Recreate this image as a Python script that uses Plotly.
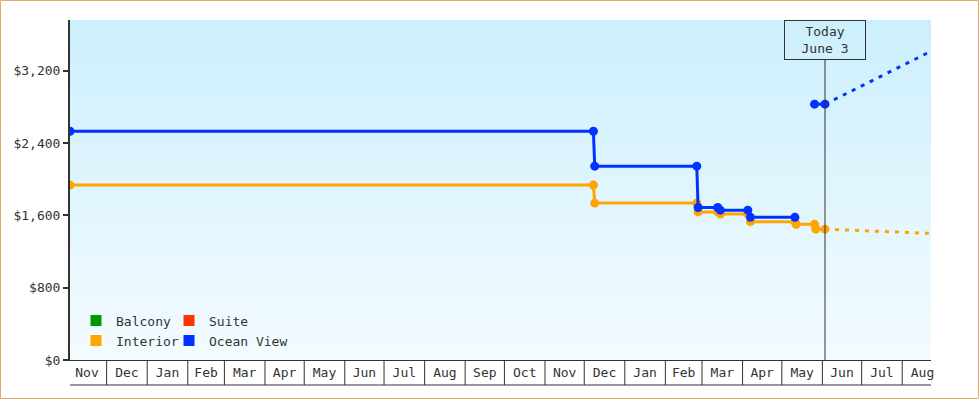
import pandas as pd
import plotly.graph_objects as go

# fare history
interior_dates = ["2012-11-03", "2013-12-08", "2013-12-09", "2014-02-25", "2014-02-26",
                  "2014-03-13", "2014-03-15", "2014-04-05", "2014-04-07", "2014-05-11",
                  "2014-05-12", "2014-05-26", "2014-05-27", "2014-06-03"]
interior_prices = [1934, 1934, 1735, 1735, 1638, 1638, 1615, 1615, 1530, 1530,
                   1500, 1500, 1447, 1447]

ocean_dates = ["2012-11-03", "2013-12-08", "2013-12-09", "2014-02-25", "2014-02-26",
               "2014-03-13", "2014-03-15", "2014-04-05", "2014-04-07", "2014-05-11",
               "2014-05-18", "2014-05-26", "2014-06-03"]
ocean_prices = [2530, 2530, 2144, 2144, 1686, 1686, 1657, 1657, 1578, 1578,
                None, 2829, 2829]

# projected fares after today
proj_dates = ["2014-06-03", "2014-07-01", "2014-08-01", "2014-09-01"]
interior_proj = [1447, 1432, 1415, 1395]
ocean_proj = [2829, 3035, 3255, 3480]

legend_names = ["Balcony", "Interior", "Suite", "Ocean View"]
legend_colors = ["#009900", "#ffa500", "#ff3300", "#0033ff"]
legend_groups = ["legend", "legend", "legend2", "legend2"]

y_ticks = [0, 800, 1600, 2400, 3200]
x_range = ["2012-11-03", "2014-08-23"]
today = "2014-06-03"

W, H = 980, 400
ML, MR, MT, MB = 70, 49, 20, 40
PW, PH = W - ML - MR, H - MT - MB
FONT = dict(family="DejaVu Sans Mono", size=13, color="#333333")

ORANGE = "#ffa500"
BLUE = "#0033ff"

fig = go.Figure()

fig.add_trace(go.Scatter(x=interior_dates, y=interior_prices, mode="lines+markers",
                         line=dict(color=ORANGE, width=3), marker=dict(size=9, color=ORANGE),
                         showlegend=False, hoverinfo="skip"))
fig.add_trace(go.Scatter(x=proj_dates, y=interior_proj, mode="lines",
                         line=dict(color=ORANGE, width=3, dash="4px,6px"),
                         showlegend=False, hoverinfo="skip"))
fig.add_trace(go.Scatter(x=ocean_dates, y=ocean_prices, mode="lines+markers",
                         line=dict(color=BLUE, width=3), marker=dict(size=9, color=BLUE),
                         showlegend=False, hoverinfo="skip"))
fig.add_trace(go.Scatter(x=proj_dates, y=ocean_proj, mode="lines",
                         line=dict(color=BLUE, width=3, dash="4px,6px"),
                         showlegend=False, hoverinfo="skip"))

for name, col, lg in zip(legend_names, legend_colors, legend_groups):
    fig.add_trace(go.Scatter(x=[None], y=[None], mode="markers", name=name, legend=lg,
                             marker=dict(symbol="square", size=11, color=col)))

# vertical gradient for the plot background
top_c = (203, 239, 252)
bot_c = (244, 251, 255)
n = 40
shapes = []
for i in range(n):
    t = (i + 0.5) / n
    c = tuple(round(b + (a - b) * t) for a, b in zip(top_c, bot_c))
    shapes.append(dict(type="rect", xref="paper", yref="paper", x0=0, x1=1,
                       y0=i / n, y1=(i + 1) / n + 0.001, layer="below",
                       line=dict(width=0), fillcolor="rgb(%d,%d,%d)" % c))

# month boxes under the axis
box_h = 25 / PH
for d in pd.date_range("2012-12-01", "2014-08-01", freq="MS"):
    shapes.append(dict(type="line", xref="x", yref="paper", x0=d, x1=d, y0=0, y1=-box_h,
                       line=dict(color="#333333", width=1)))
shapes.append(dict(type="line", xref="paper", yref="paper", x0=0, x1=1, y0=-box_h, y1=-box_h,
                   line=dict(color="#333333", width=1)))

# today marker line
shapes.append(dict(type="line", xref="x", yref="paper", x0=today, x1=today,
                   y0=0, y1=1 - 40 / PH, line=dict(color="#333333", width=1)))

# outer border
shapes.append(dict(type="rect", xref="paper", yref="paper",
                   x0=(-ML + 0.5) / PW, x1=(W - ML - 1.5) / PW,
                   y0=(-MB + 1.5) / PH, y1=1 + (MT - 0.5) / PH,
                   line=dict(color="#e9a960", width=1)))

fig.update_layout(
    width=W, height=H,
    margin=dict(l=ML, r=MR, t=MT, b=MB),
    paper_bgcolor="white",
    plot_bgcolor="rgb(244,251,255)",
    font=FONT,
    shapes=shapes,
    legend=dict(x=6 / PW, y=0.16, xanchor="left", yanchor="top", font=FONT,
                bgcolor="rgba(0,0,0,0)", itemwidth=30, tracegroupgap=0),
    legend2=dict(x=99 / PW, y=0.16, xanchor="left", yanchor="top", font=FONT,
                 bgcolor="rgba(0,0,0,0)", itemwidth=30, tracegroupgap=0),
    annotations=[dict(x=today, y=1, xref="x", yref="paper", yanchor="top",
                      text="Today<br>June 3", showarrow=False, font=FONT,
                      bordercolor="#333333", borderwidth=1, borderpad=1,
                      width=78, height=36, bgcolor="rgba(0,0,0,0)")],
)

fig.update_xaxes(type="date", range=x_range, dtick="M1", tickformat="%b",
                 ticklabelmode="period", ticks="", showgrid=False, zeroline=False,
                 showline=True, linecolor="#333333", linewidth=1)
fig.update_yaxes(range=[0, 3760], tickvals=y_ticks, tickformat="$,",
                 ticks="outside", ticklen=5, tickwidth=2, tickcolor="#333333",
                 showgrid=False, zeroline=False,
                 showline=True, linecolor="#333333", linewidth=2)

fig.write_html("out.html", config={"displayModeBar": False},
               post_script="document.body.style.margin='0';")
